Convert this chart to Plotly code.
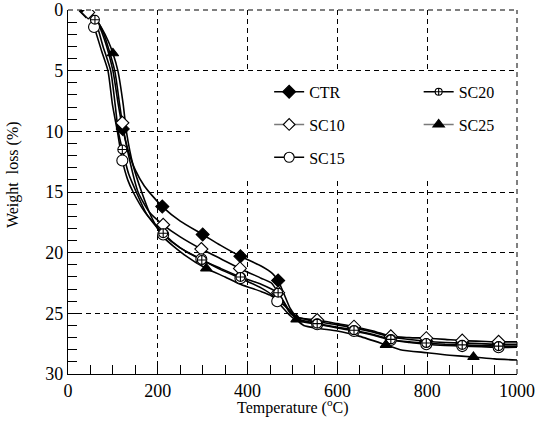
import plotly.graph_objects as go

# ---------------- data ----------------
series_names = ["CTR", "SC10", "SC15", "SC20", "SC25"]

ctr_x = [35, 40, 50, 65, 80, 100, 112, 122, 135, 150, 170, 190, 210, 250, 300, 340, 384, 430, 455, 468,
         480, 495, 510, 530, 555, 600, 637, 680, 719, 760, 798, 840, 878, 920, 959, 1000]
ctr_y = [0, 0.1, 0.3, 1.0, 2.3, 5.0, 7.8, 9.8, 11.7, 13.2, 14.5, 15.4, 16.2, 17.4, 18.5, 19.4, 20.3, 21.1, 21.7, 22.3,
         23.3, 24.6, 25.3, 25.5, 25.7, 25.95, 26.2, 26.55, 26.95, 27.15, 27.3, 27.4, 27.45, 27.5, 27.55, 27.55]
ctr_mk = [40, 122, 210, 300, 384, 468, 555, 637, 719, 798, 878, 959]

sc10_x = [35, 45, 65, 80, 104, 115, 121, 135, 156, 180, 212, 250, 297, 340, 383, 430, 453, 468, 480, 495,
          510, 555, 600, 637, 680, 719, 760, 798, 840, 878, 920, 959, 1000]
sc10_y = [0, 0.2, 0.9, 2.0, 5.0, 7.8, 9.3, 12.0, 15.0, 16.6, 17.7, 18.7, 19.7, 20.5, 21.3, 22.1, 22.5, 23.3, 24.1, 25.0,
          25.35, 25.55, 25.85, 26.1, 26.45, 26.9, 27.0, 27.05, 27.15, 27.25, 27.3, 27.35, 27.35]
sc10_mk = [45, 121, 212, 297, 383, 468, 555, 637, 719, 798, 878, 959]

sc15_x = [35, 45, 58, 75, 89, 99, 110, 121, 133, 145, 170, 212, 250, 297, 340, 384, 430, 455, 466, 480,
          495, 510, 555, 600, 637, 680, 719, 760, 798, 840, 878, 920, 959, 1000]
sc15_y = [0, 0.4, 1.4, 3.4, 5.0, 7.8, 10.0, 12.4, 14.0, 15.0, 16.6, 18.5, 19.6, 20.55, 21.4, 22.1, 22.9, 23.5, 24.0, 24.6,
          25.2, 25.6, 25.9, 26.2, 26.45, 26.8, 27.2, 27.4, 27.55, 27.65, 27.7, 27.75, 27.8, 27.8]
sc15_mk = [58, 121, 212, 297, 384, 466, 555, 637, 719, 798, 878, 959]

sc20_x = [35, 48, 60, 78, 95, 105, 112, 121, 135, 152, 175, 212, 250, 298, 340, 384, 430, 453, 468, 480,
          495, 510, 555, 600, 637, 680, 719, 760, 798, 840, 878, 920, 959, 1000]
sc20_y = [0, 0.3, 0.8, 3.0, 5.0, 7.8, 10.0, 11.5, 13.5, 15.0, 16.8, 18.4, 19.6, 20.6, 21.3, 22.0, 22.6, 23.0, 23.3, 24.0,
          24.9, 25.45, 25.85, 26.15, 26.4, 26.75, 27.15, 27.35, 27.45, 27.55, 27.6, 27.65, 27.7, 27.7]
sc20_mk = [60, 121, 212, 298, 384, 468, 555, 637, 719, 798, 878, 959]

sc25_x = [35, 55, 75, 90, 100, 111, 123, 130, 145, 164, 185, 212, 260, 308, 350, 384, 430, 450, 480, 500,
          509, 525, 560, 600, 650, 708, 740, 800, 850, 903, 950, 1000]
sc25_y = [0, 0.4, 1.5, 2.6, 3.57, 5.0, 7.8, 10.0, 12.8, 15.0, 17.0, 18.7, 20.2, 21.3, 22.0, 22.6, 23.2, 23.5, 24.3, 25.0,
          25.5, 26.0, 26.25, 26.45, 26.9, 27.6, 28.0, 28.25, 28.45, 28.6, 28.75, 28.85]
sc25_mk = [100, 308, 509, 708, 903]

x_ticks = [0, 200, 400, 600, 800, 1000]
y_ticks = [0, 5, 10, 15, 20, 25, 30]

x_title = "Temperature (<sup>o</sup>C)"
y_title = "Weight  loss (%)"

# ---------------- styles ----------------
FONT = "Liberation Serif, Times New Roman, serif"
styles = {
    "CTR": dict(symbol="diamond", size=10, color="black", lc="black", ms_leg=10),
    "SC10": dict(symbol="diamond", size=10, color="white", lc="#7a7a7a", ms_leg=9),
    "SC15": dict(symbol="circle", size=11, color="white", lc="black", ms_leg=10),
    "SC20": dict(symbol="circle-cross", size=9, color="white", lc="black", ms_leg=7),
    "SC25": dict(symbol="triangle-up", size=10, color="black", lc="#7a7a7a", ms_leg=10),
}
data = {
    "CTR": (ctr_x, ctr_y, ctr_mk),
    "SC10": (sc10_x, sc10_y, sc10_mk),
    "SC15": (sc15_x, sc15_y, sc15_mk),
    "SC20": (sc20_x, sc20_y, sc20_mk),
    "SC25": (sc25_x, sc25_y, sc25_mk),
}
legend_of = {"CTR": "legend", "SC10": "legend", "SC15": "legend", "SC20": "legend2", "SC25": "legend2"}

fig = go.Figure()

# curves
for name in series_names:
    xs, ys, _ = data[name]
    fig.add_trace(go.Scatter(x=xs, y=ys, mode="lines", showlegend=False, hoverinfo="skip",
                             line=dict(color="black", width=1.6, shape="spline", smoothing=0.6)))
# markers (points of the curve at marker positions)
for name in series_names:
    xs, ys, mk = data[name]
    mx = [x for x in xs if x in mk]
    my = [y for x, y in zip(xs, ys) if x in mk]
    st = styles[name]
    fig.add_trace(go.Scatter(x=mx, y=my, mode="markers", showlegend=False,
                             marker=dict(symbol=st["symbol"], size=st["size"], color=st["color"],
                                         line=dict(color="black", width=1.1))))
# legend entries
for name in series_names:
    st = styles[name]
    fig.add_trace(go.Scatter(x=[None], y=[None], mode="lines+markers", name=name,
                             legend=legend_of[name], legendgroup=name,
                             line=dict(color=st["lc"], width=1.6),
                             marker=dict(symbol=st["symbol"], size=st["ms_leg"], color=st["color"],
                                         line=dict(color="black", width=1.1))))

dash = "5px,4px"
axis_common = dict(
    showline=True, linecolor="black", linewidth=1.2,
    ticks="inside", ticklen=9, tickcolor="black", tickwidth=1,
    showgrid=True, gridcolor="black", gridwidth=1, griddash=dash,
    zeroline=False, tickfont=dict(family=FONT, size=18, color="black"),
    mirror=False, automargin=False,
)

fig.update_layout(
    width=539, height=421,
    margin=dict(l=68, r=22, t=10, b=47, autoexpand=False),
    paper_bgcolor="white", plot_bgcolor="white",
    font=dict(family=FONT, color="black"),
    xaxis=dict(range=[0, 1000], tickvals=x_ticks,
               minor=dict(dtick=50, ticks="inside", ticklen=9, tickcolor="black", showgrid=False),
               **axis_common),
    yaxis=dict(range=[30, 0], tickvals=y_ticks,
               minor=dict(dtick=1, ticks="inside", ticklen=9, tickcolor="black", showgrid=False),
               **axis_common),
    legend=dict(x=0.448, y=0.822, xanchor="left", yanchor="top", orientation="v",
                bgcolor="rgba(0,0,0,0)", tracegroupgap=9, font=dict(family=FONT, size=16)),
    legend2=dict(x=0.781, y=0.822, xanchor="left", yanchor="top", orientation="v",
                 bgcolor="rgba(0,0,0,0)", tracegroupgap=9, font=dict(family=FONT, size=16)),
    annotations=[
        dict(text=x_title, xref="paper", yref="paper", x=0.5, y=-0.09, xanchor="center", yanchor="middle",
             showarrow=False, font=dict(family=FONT, size=16, color="black")),
        dict(text=y_title, xref="paper", yref="paper", x=-0.122, y=0.547, xanchor="center", yanchor="middle",
             textangle=-90, showarrow=False, font=dict(family=FONT, size=16, color="black")),
    ],
    shapes=[
        # white panel behind the legend (covers grid)
        dict(type="rect", xref="paper", yref="paper", x0=0.278, x1=0.995, y0=0.533, y1=0.83,
             fillcolor="white", line=dict(width=0), layer="above"),
        # dashed top and right frame
        dict(type="line", xref="paper", yref="paper", x0=0, x1=1, y0=1, y1=1,
             line=dict(color="black", width=1, dash=dash), layer="above"),
        dict(type="line", xref="paper", yref="paper", x0=1, x1=1, y0=0, y1=1,
             line=dict(color="black", width=1, dash=dash), layer="above"),
    ],
)

fig.write_html("out.html", config={"displayModeBar": False},
               post_script="document.body.style.margin='0px';")
